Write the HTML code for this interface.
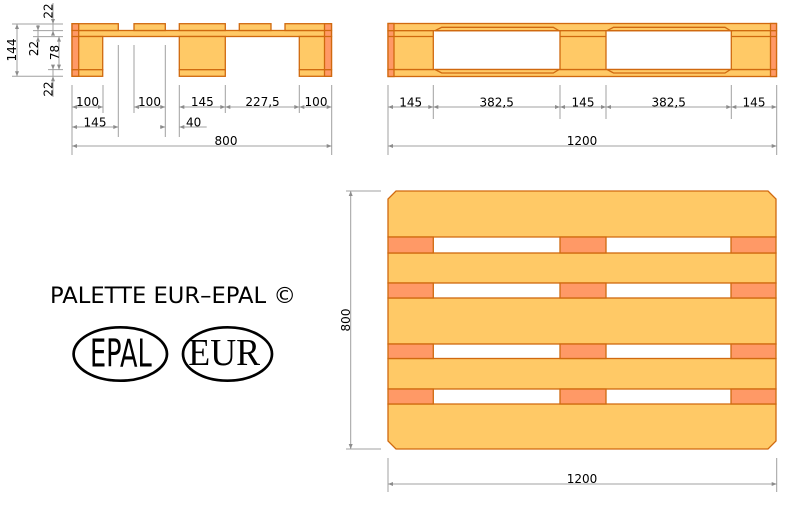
<!DOCTYPE html>
<html><head><meta charset="utf-8"><style>
html,body{margin:0;padding:0;background:#fff;}
svg{display:block}
</style></head><body>
<svg width="800" height="512" viewBox="0 0 800 512" xmlns="http://www.w3.org/2000/svg">
<style>
.b{fill:#ffc966;stroke:#d0690f;stroke-width:1.3}
.s{fill:#ff9966;stroke:#d0690f;stroke-width:1.3}
.l{stroke:#d0690f;stroke-width:1.3;fill:none}
.d{stroke:#a0a0a0;stroke-width:1;fill:none}
.a{fill:#8c8c8c}
.t{font-family:"DejaVu Sans","Liberation Sans",sans-serif;font-size:12px;fill:#000}
</style>

<!-- ===== Left side view (800 side) ===== -->
<rect class="b" x="72" y="30.5" width="259.5" height="6"/>
<rect class="b" x="72" y="36.5" width="30.7" height="33.2"/>
<rect class="b" x="179.3" y="36.5" width="46" height="33.2"/>
<rect class="b" x="299.3" y="36.5" width="32.2" height="33.2"/>
<rect class="b" x="72" y="69.7" width="30.7" height="6.6"/>
<rect class="b" x="179.3" y="69.7" width="46" height="6.6"/>
<rect class="b" x="299.3" y="69.7" width="32.2" height="6.6"/>
<rect class="b" x="72" y="23.7" width="46.3" height="6.8"/>
<rect class="b" x="134" y="23.7" width="31.3" height="6.8"/>
<rect class="b" x="179.3" y="23.7" width="46" height="6.8"/>
<rect class="b" x="239.3" y="23.7" width="31.7" height="6.8"/>
<rect class="b" x="285" y="23.7" width="46.5" height="6.8"/>
<rect class="s" x="72" y="23.7" width="6.7" height="52.6"/>
<rect class="s" x="324.5" y="23.7" width="7" height="52.6"/>
<path class="l" d="M72 30.5H78.7M72 36.5H78.7M72 69.7H78.7M324.5 30.5H331.5M324.5 36.5H331.5M324.5 69.7H331.5"/>

<!-- vertical dims left -->
<path class="d" d="M12 24H63M12 76.3H63M33 30.6H63M33 36.6H63M48 69.6H63"/>
<path class="d" d="M17 24V76.3"/>
<polygon class="a" points="17,24 15,29 19,29"/><polygon class="a" points="17,76.3 15,71.3 19,71.3"/>
<text class="t" transform="translate(16,50) rotate(-90)" text-anchor="middle">144</text>
<path class="d" d="M53 3V34"/>
<polygon class="a" points="53,24 51,19 55,19"/><polygon class="a" points="53,30.6 51,35.6 55,35.6"/>
<text class="t" transform="translate(52.5,11) rotate(-90)" text-anchor="middle">22</text>
<path class="d" d="M38 25V55"/>
<polygon class="a" points="38,30.6 36,25.6 40,25.6"/><polygon class="a" points="38,36.6 36,41.6 40,41.6"/>
<text class="t" transform="translate(38,48.5) rotate(-90)" text-anchor="middle">22</text>
<path class="d" d="M59 36.6V69.6"/>
<polygon class="a" points="59,36.6 57,41.6 61,41.6"/><polygon class="a" points="59,69.6 57,64.6 61,64.6"/>
<text class="t" transform="translate(59,52.5) rotate(-90)" text-anchor="middle">78</text>
<path class="d" d="M53 65V97"/>
<polygon class="a" points="53,69.6 51,64.6 55,64.6"/><polygon class="a" points="53,76.3 51,81.3 55,81.3"/>
<text class="t" transform="translate(52.5,89) rotate(-90)" text-anchor="middle">22</text>

<!-- horizontal dims left -->
<path class="d" d="M72 85V155M103 85V113M118.3 45V137M134 45V113M165.3 45V137M179.3 85V137M225.3 85V113M299.3 85V113M331.7 85V155"/>
<path class="d" d="M72 107H103M134 107H165.3M179.3 107H331.7M72 127H118.3M160 127H165.3M179.3 127H206.7M72 146H331.7"/>
<polygon class="a" points="72,107 77,105 77,109"/><polygon class="a" points="103,107 98,105 98,109"/>
<polygon class="a" points="134,107 139,105 139,109"/><polygon class="a" points="165.3,107 160.3,105 160.3,109"/>
<polygon class="a" points="179.3,107 184.3,105 184.3,109"/><polygon class="a" points="225.3,107 220.3,105 220.3,109"/>
<polygon class="a" points="225.3,107 230.3,105 230.3,109"/><polygon class="a" points="299.3,107 294.3,105 294.3,109"/>
<polygon class="a" points="299.3,107 304.3,105 304.3,109"/><polygon class="a" points="331.7,107 326.7,105 326.7,109"/>
<polygon class="a" points="72,127 77,125 77,129"/><polygon class="a" points="118.3,127 113.3,125 113.3,129"/>
<polygon class="a" points="165.3,127 160.3,125 160.3,129"/><polygon class="a" points="179.3,127 184.3,125 184.3,129"/>
<polygon class="a" points="72,146 77,144 77,148"/><polygon class="a" points="331.7,146 326.7,144 326.7,148"/>
<text class="t" x="87.5" y="106" text-anchor="middle">100</text>
<text class="t" x="149.5" y="106" text-anchor="middle">100</text>
<text class="t" x="202.3" y="106" text-anchor="middle">145</text>
<text class="t" x="262.5" y="106" text-anchor="middle">227,5</text>
<text class="t" x="316" y="106" text-anchor="middle">100</text>
<text class="t" x="95" y="126.5" text-anchor="middle">145</text>
<text class="t" x="186" y="126.5">40</text>
<text class="t" x="226" y="145" text-anchor="middle">800</text>

<!-- ===== Right side view (1200 side) ===== -->
<rect class="b" x="388" y="23.5" width="388.5" height="7.2"/>
<rect class="b" x="388" y="69.5" width="388.5" height="7"/>
<rect class="b" x="388" y="30.7" width="45.3" height="38.8"/>
<rect class="b" x="560" y="30.7" width="46" height="38.8"/>
<rect class="b" x="731.3" y="30.7" width="45.2" height="38.8"/>
<path class="l" d="M388 36.5H433.3M560 36.5H606M731.3 36.5H776.5"/>
<path class="b" d="M435 30.7L441.7 27.3H553.3L559 30.7Z"/>
<path class="b" d="M435 69.5L441.7 73H553.3L559 69.5Z"/>
<path class="b" d="M607 30.7L613.5 27.3H725L730.5 30.7Z"/>
<path class="b" d="M607 69.5L613.5 73H725L730.5 69.5Z"/>
<rect class="s" x="388" y="23.5" width="6" height="53"/>
<rect class="s" x="770.5" y="23.5" width="6" height="53"/>
<path class="l" d="M388 30.7H394M388 36.5H394M388 69.5H394M770.5 30.7H776.5M770.5 36.5H776.5M770.5 69.5H776.5"/>

<path class="d" d="M388 85V155M433.3 85V119M560 85V119M606 85V119M731.3 85V119M776.7 85V155"/>
<path class="d" d="M388 107H776.7M388 146H776.7"/>
<polygon class="a" points="388,107 393,105 393,109"/><polygon class="a" points="433.3,107 428.3,105 428.3,109"/>
<polygon class="a" points="433.3,107 438.3,105 438.3,109"/><polygon class="a" points="560,107 555,105 555,109"/>
<polygon class="a" points="560,107 565,105 565,109"/><polygon class="a" points="606,107 601,105 601,109"/>
<polygon class="a" points="606,107 611,105 611,109"/><polygon class="a" points="731.3,107 726.3,105 726.3,109"/>
<polygon class="a" points="731.3,107 736.3,105 736.3,109"/><polygon class="a" points="776.7,107 771.7,105 771.7,109"/>
<polygon class="a" points="388,146 393,144 393,148"/><polygon class="a" points="776.7,146 771.7,144 771.7,148"/>
<text class="t" x="410.7" y="106.5" text-anchor="middle">145</text>
<text class="t" x="496.7" y="106.5" text-anchor="middle">382,5</text>
<text class="t" x="583" y="106.5" text-anchor="middle">145</text>
<text class="t" x="668.7" y="106.5" text-anchor="middle">382,5</text>
<text class="t" x="754" y="106.5" text-anchor="middle">145</text>
<text class="t" x="582" y="145" text-anchor="middle">1200</text>

<!-- ===== Plan view ===== -->
<path class="b" d="M396 191H768L776 199V237H388V199Z"/>
<rect class="b" x="388" y="253" width="388" height="30"/>
<rect class="b" x="388" y="298" width="388" height="46"/>
<rect class="b" x="388" y="358.5" width="388" height="30.5"/>
<path class="b" d="M388 404H776V441L768 449H396L388 441Z"/>
<rect class="s" x="388" y="237" width="45.3" height="16"/>
<rect class="s" x="560" y="237" width="46" height="16"/>
<rect class="s" x="731" y="237" width="45" height="16"/>
<rect class="s" x="388" y="283" width="45.3" height="15"/>
<rect class="s" x="560" y="283" width="46" height="15"/>
<rect class="s" x="731" y="283" width="45" height="15"/>
<rect class="s" x="388" y="344" width="45.3" height="14.5"/>
<rect class="s" x="560" y="344" width="46" height="14.5"/>
<rect class="s" x="731" y="344" width="45" height="14.5"/>
<rect class="s" x="388" y="389" width="45.3" height="15"/>
<rect class="s" x="560" y="389" width="46" height="15"/>
<rect class="s" x="731" y="389" width="45" height="15"/>

<path class="d" d="M346 191H381M346 449H381M350.7 191V449"/>
<polygon class="a" points="350.7,191 348.7,196 352.7,196"/><polygon class="a" points="350.7,449 348.7,444 352.7,444"/>
<text class="t" transform="translate(350,320) rotate(-90)" text-anchor="middle">800</text>
<path class="d" d="M388 458V492M776.7 458V492M388 484H776.7"/>
<polygon class="a" points="388,484 393,482 393,486"/><polygon class="a" points="776.7,484 771.7,482 771.7,486"/>
<text class="t" x="582" y="483" text-anchor="middle">1200</text>

<!-- ===== Title and logos ===== -->
<text x="50" y="303" textLength="246" lengthAdjust="spacingAndGlyphs" style="font-family:'DejaVu Sans','Liberation Sans',sans-serif;font-size:22px;fill:#000">PALETTE EUR–EPAL ©</text>
<ellipse cx="120.3" cy="354" rx="46.7" ry="26.7" fill="none" stroke="#000" stroke-width="2.7"/>
<ellipse cx="227.5" cy="354" rx="44.5" ry="26.7" fill="none" stroke="#000" stroke-width="2.7"/>
<text x="90" y="366.5" textLength="61.7" lengthAdjust="spacingAndGlyphs" style="font-family:'DejaVu Sans','Liberation Sans',sans-serif;font-weight:normal;font-size:38.5px;fill:#000">EPAL</text>
<text x="188.3" y="365" textLength="71.7" lengthAdjust="spacingAndGlyphs" style="font-family:'Liberation Serif',serif;font-size:38px;fill:#000">EUR</text>
</svg>
</body></html>
